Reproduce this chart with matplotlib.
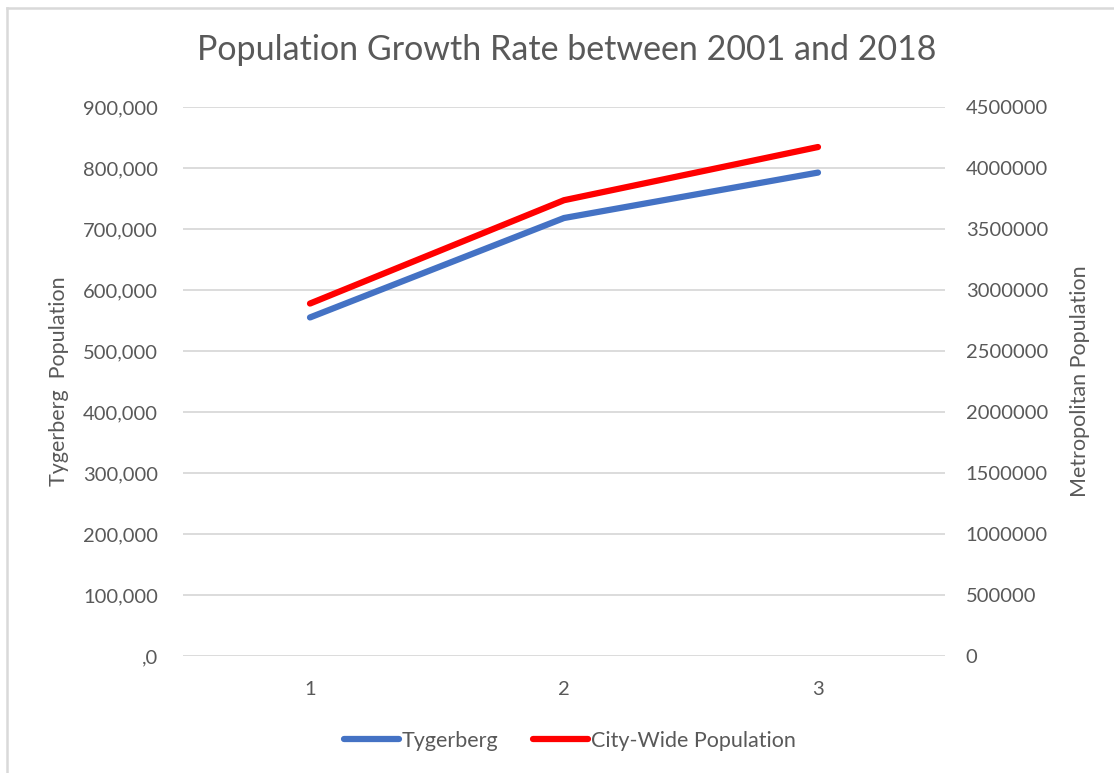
import matplotlib.pyplot as plt
from matplotlib.lines import Line2D
from matplotlib.ticker import FuncFormatter, MultipleLocator

plt.rcParams['font.family'] = ['Lato', 'DejaVu Sans']

# population figures per census point
periods = [1, 2, 3]
tygerberg = [555000, 718000, 792500]
city_wide = [2889000, 3736000, 4172000]

text_col = '#595959'
grid_col = '#d9d9d9'

fig = plt.figure(figsize=(11.14, 7.73), dpi=100)
ax = fig.add_axes([183 / 1114, 1 - 656 / 773, (945 - 183) / 1114, (656 - 107) / 773])
ax2 = ax.twinx()

l1, = ax.plot(periods, tygerberg, color='#4472c4', lw=4.5, solid_capstyle='round',
              label='Tygerberg', zorder=3)
l2, = ax2.plot(periods, city_wide, color='#ff0000', lw=4.5, solid_capstyle='round',
               label='City-Wide Population', zorder=3)

ax.set_xlim(0.5, 3.5)
ax.set_ylim(0, 900000)
ax2.set_ylim(0, 4500000)
ax.yaxis.set_major_locator(MultipleLocator(100000))
ax2.yaxis.set_major_locator(MultipleLocator(500000))
ax.set_xticks(periods)
ax.yaxis.set_major_formatter(FuncFormatter(lambda v, p: ',0' if v == 0 else f'{int(v):,}'))
ax2.yaxis.set_major_formatter(FuncFormatter(lambda v, p: f'{int(v)}'))

ax.grid(axis='y', color=grid_col, lw=1.3)
ax.set_axisbelow(True)
for a in (ax, ax2):
    for s in a.spines.values():
        s.set_visible(False)
    a.tick_params(length=0, colors=text_col, labelsize=14.5)
ax.tick_params(axis='y', pad=18)
ax2.tick_params(axis='y', pad=15)
ax.tick_params(axis='x', pad=18)

ax.set_ylabel('Tygerberg  Population', color=text_col, fontsize=15.5, labelpad=10)
ax2.set_ylabel('Metropolitan Population', color=text_col, fontsize=15.5,
               rotation=90, labelpad=16)

fig.text(567 / 1114, 1 - 50 / 773, 'Population Growth Rate between 2001 and 2018',
         ha='center', va='center', fontsize=24.5, color=text_col)

leg = fig.legend(handles=[l1, l2], loc='center', bbox_to_anchor=(570 / 1114, 1 - 741 / 773),
                 ncol=2, frameon=False, fontsize=15.5, handlelength=2.55,
                 handletextpad=0.15, columnspacing=1.6)
for t in leg.get_texts():
    t.set_color(text_col)

# chart border (top and left edges)
fig.add_artist(Line2D([7 / 1114, 1], [1 - 8 / 773, 1 - 8 / 773], color=grid_col, lw=1.8))
fig.add_artist(Line2D([7 / 1114, 7 / 1114], [0, 1 - 8 / 773], color=grid_col, lw=1.8))

fig.savefig('out.png', dpi=100)
